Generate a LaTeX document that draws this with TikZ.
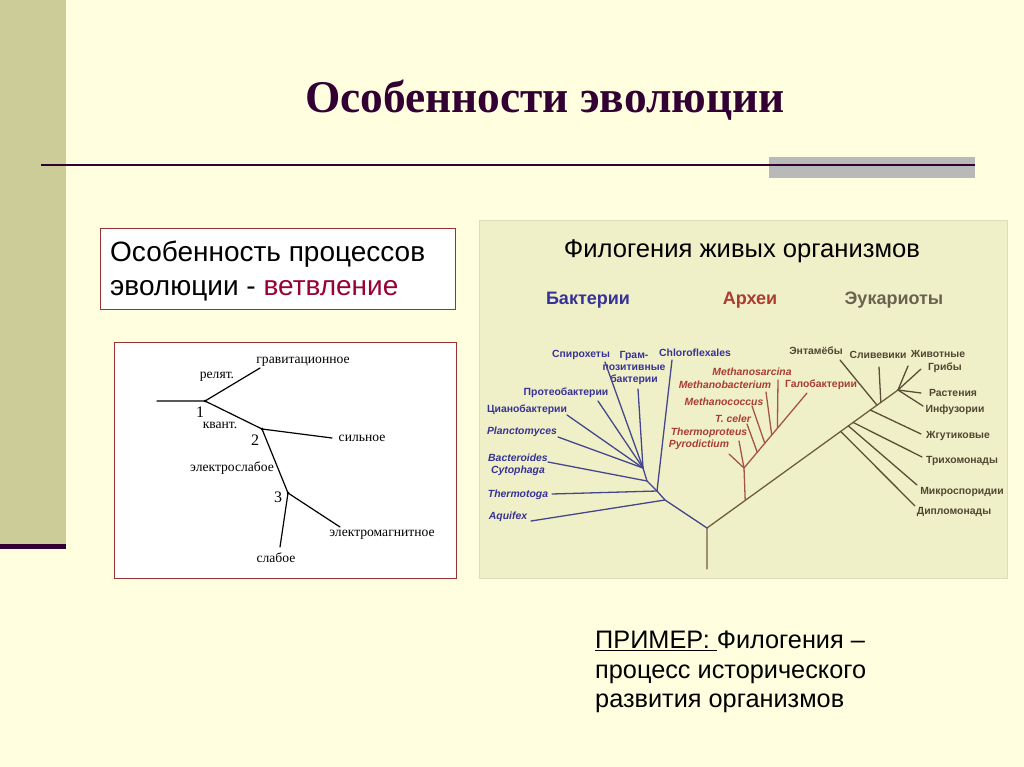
\documentclass[tikz,border=0pt]{standalone}
\usepackage{fontspec}
\setmainfont{Liberation Serif}
\setsansfont{Liberation Sans}
\usetikzlibrary{calc,positioning}

\definecolor{slidebg}{RGB}{255,255,224}
\definecolor{sidebar}{RGB}{204,204,153}
\definecolor{titlecol}{RGB}{51,0,51}
\definecolor{boxline}{RGB}{153,51,51}
\definecolor{redword}{RGB}{153,0,51}
\definecolor{panel}{RGB}{240,240,200}
\definecolor{bacline}{RGB}{70,70,140}
\definecolor{bactext}{RGB}{55,50,150}
\definecolor{arcline}{RGB}{165,85,70}
\definecolor{arctext}{RGB}{170,60,50}
\definecolor{eukline}{RGB}{90,78,55}
\definecolor{euktext}{RGB}{80,70,50}
\definecolor{trunkcol}{RGB}{110,95,60}

\begin{document}
\begin{tikzpicture}[x=1pt,y=-1pt,
    branch/.style={line width=1.3pt, line cap=round},
    force/.style={line width=1.2pt, line cap=round},
    tag/.style={font=\sffamily\bfseries\fontsize{10.4}{12}\selectfont, inner sep=0pt},
    bac/.style={tag, text=bactext},
    arch/.style={tag, text=arctext},
    euk/.style={tag, text=euktext},
    latin/.style={font=\sffamily\bfseries\itshape\fontsize{10.4}{12}\selectfont},
    head/.style={inner sep=0pt, font=\sffamily\bfseries\fontsize{18}{20}\selectfont},
    forcelbl/.style={font=\fontsize{13.6}{15}\selectfont, inner sep=0pt},
    forcenum/.style={font=\fontsize{16}{18}\selectfont, inner sep=0pt},
    knot/.style={circle, fill, inner sep=0pt, minimum size=3pt}]
    \fill[slidebg] (0,0) rectangle (1024,767);
    \useasboundingbox (0,0) rectangle (1024,767);
    % slide frame
    \fill[sidebar] (0,0) rectangle (66,545);
    \draw[titlecol, line width=5pt] (0,546) -- (66,546);
    \fill[gray!55] (769,157) rectangle (975,178);
    \draw[titlecol, line width=2.5pt] (41,165) -- (975,165);
    \node[anchor=base, text=titlecol, font=\bfseries\fontsize{45.4}{52}\selectfont] (title) at (545,113) {Особенности эволюции};

    % statement box
    \draw[boxline, fill=white, line width=1pt] (100,229) rectangle (455,309);
    \node[anchor=west, align=left, inner sep=0pt, font=\sffamily\fontsize{28}{34}\selectfont] (feature) at (110,271)
        {Особенность процессов\\эволюции - \textcolor{redword}{ветвление}};

    % example text
    \node[anchor=west, align=left, inner sep=0pt, font=\sffamily\fontsize{25.3}{29.5}\selectfont] (example) at (595,672)
        {\underline{ПРИМЕР: }Филогения --\\процесс исторического\\развития организмов};

    % forces tree
    \draw[boxline, fill=white, line width=0.8pt] (114,342) rectangle (456,578);
    \coordinate (f_in) at (157,401);
    \node[knot] (n_1) at (205,401) {};
    \node[knot] (n_2) at (262,429) {};
    \node[knot] (n_3) at (288,493) {};
    \coordinate (f_grav) at (260,368);
    \coordinate (f_strong) at (332,438);
    \coordinate (f_em) at (340,527);
    \coordinate (f_weak) at (280,547);
    \draw[force] (f_in) -- (n_1.center) -- (n_2.center) -- (n_3.center) -- (f_weak);
    \draw[force] (n_1.center) -- (f_grav);
    \draw[force] (n_2.center) -- (f_strong);
    \draw[force] (n_3.center) -- (f_em);
    \node[forcelbl] (grav) at (303,362) {гравитационное};
    \node[forcelbl] (relat) at (217,377) {релят.};
    \node[forcenum] (num_1) at (200,412) {1};
    \node[forcelbl] (quant) at (220,425) {квант.};
    \node[forcenum] (num_2) at (255,440) {2};
    \node[forcelbl] (strong) at (362,438) {сильное};
    \node[forcelbl] (ew) at (232,468) {электрослабое};
    \node[forcenum] (num_3) at (278,497) {3};
    \node[forcelbl] (em) at (382,535) {электромагнитное};
    \node[forcelbl] (weak) at (276,558) {слабое};

    % phylogeny panel
    \filldraw[fill=panel, draw=panel!92!black, line width=0.6pt] (479,220) rectangle (1007,578);
    \node[anchor=base, inner sep=0pt, font=\sffamily\fontsize{25.6}{28}\selectfont] (phylo) at (742,258) {Филогения живых организмов};
    \node[head, text=bactext] (h_bac) at (588,300) {Бактерии};
    \node[head, text=arctext] (h_arc) at (750,300) {Археи};
    \node[head, text=euktext!85!white] (h_euk) at (894,300) {Эукариоты};

    \coordinate (root_low) at (707,569);
    \coordinate (root_top) at (707,528);
    \coordinate (e_fan) at (898,390);
    \draw[branch, trunkcol] (root_low) -- (root_top) -- (e_fan);

    % bacteria
    \coordinate (b_1) at (665,500);
    \coordinate (b_2) at (657,491);
    \coordinate (b_3) at (647,481);
    \coordinate (b_4) at (643,468);
    \draw[branch, bacline] (root_top) -- (b_1) -- (b_2) -- (b_3) -- (b_4);
    \node[bac] (spiro) at (581,355) {Спирохеты};
    \node[bac, align=center] (gram) at (634,368) {Грам-\\позитивные\\бактерии};
    \node[bac] (chloro) at (695,353) {Chloroflexales};
    \node[bac] (proteo) at (566,393) {Протеобактерии};
    \node[bac] (cyano) at (527,410) {Цианобактерии};
    \node[bac, latin] (planct) at (522,432) {Planctomyces};
    \node[bac, latin, align=center] (bactero) at (518,465) {Bacteroides\\Cytophaga};
    \node[bac, latin] (thermotoga) at (518,495) {Thermotoga};
    \node[bac, latin] (aquifex) at (508,517) {Aquifex};
    \coordinate (end_spiro) at (605,362);
    \coordinate (end_gram) at (638,389);
    \coordinate (end_chloro) at (672,360);
    \coordinate (end_proteo) at (598,401);
    \coordinate (end_cyano) at (567,415);
    \coordinate (end_planct) at (558,437);
    \coordinate (end_bactero) at (548,462);
    \coordinate (end_thermotoga) at (552,494);
    \coordinate (end_aquifex) at (531,521);
    \draw[branch, bacline] (end_spiro) -- (b_4);
    \draw[branch, bacline] (end_gram) -- (b_4);
    \draw[branch, bacline] (end_proteo) -- (b_4);
    \draw[branch, bacline] (end_cyano) -- (b_4);
    \draw[branch, bacline] (end_planct) -- (b_4);
    \draw[branch, bacline] (end_bactero) -- (b_3);
    \draw[branch, bacline] (end_chloro) -- (b_2);
    \draw[branch, bacline] (end_thermotoga) -- (b_2);
    \draw[branch, bacline] (end_aquifex) -- (b_1);

    % archaea
    \coordinate (a_0) at ($(root_top)!0.2!(e_fan)$);
    \coordinate (a_1) at (744,468);
    \coordinate (end_halo) at (807,393);
    \draw[branch, arcline] (a_0) -- (a_1) -- (end_halo);
    \node[arch, latin] (msarc) at (752,372) {Methanosarcina};
    \node[arch, latin] (mbact) at (725,385) {Methanobacterium};
    \node[arch] (halo) at (821,385) {Галобактерии};
    \node[arch, latin] (mcocc) at (724,402) {Methanococcus};
    \node[arch, latin] (tceler) at (733,419) {T. celer};
    \node[arch, latin] (tprot) at (709,433) {Thermoproteus};
    \node[arch, latin] (pyro) at (699,445) {Pyrodictium};
    \coordinate (end_tprot) at (739,441);
    \coordinate (end_pyro) at (729,454);
    \coordinate (end_tceler) at (747,424);
    \coordinate (end_mcocc) at (752,406);
    \coordinate (end_mbact) at (766,392);
    \coordinate (end_msarc) at (778,380);
    \draw[branch, arcline] (end_tprot) -- (a_1);
    \draw[branch, arcline] (end_pyro) -- (a_1);
    \draw[branch, arcline] (end_tceler) -- ($(a_1)!0.21!(end_halo)$);
    \draw[branch, arcline] (end_mcocc) -- ($(a_1)!0.33!(end_halo)$);
    \draw[branch, arcline] (end_mbact) -- ($(a_1)!0.44!(end_halo)$);
    \draw[branch, arcline] (end_msarc) -- ($(a_1)!0.53!(end_halo)$);

    % eukaryotes
    \node[euk] (entam) at (816,351) {Энтамёбы};
    \node[euk] (sliz) at (878,355) {Сливевики};
    \node[euk] (zhiv) at (938,354) {Животные};
    \node[euk] (griby) at (945,368) {Грибы};
    \node[euk] (rast) at (953,393) {Растения};
    \node[euk] (infuz) at (955,410) {Инфузории};
    \node[euk] (zhgut) at (958,436) {Жгутиковые};
    \node[euk] (trich) at (962,461) {Трихомонады};
    \node[euk] (micro) at (962,492) {Микроспоридии};
    \node[euk] (diplo) at (954,512) {Дипломонады};
    \coordinate (end_entam) at (840,360);
    \coordinate (end_sliz) at (879,367);
    \coordinate (end_zhiv) at (908,366);
    \coordinate (end_griby) at (921,369);
    \coordinate (end_rast) at (921,393);
    \coordinate (end_infuz) at (923,406);
    \coordinate (end_zhgut) at (921,434);
    \coordinate (end_trich) at (922,457);
    \coordinate (end_micro) at (917,485);
    \coordinate (end_diplo) at (915,506);
    \draw[branch, eukline] (end_diplo) -- ($(root_top)!0.70!(e_fan)$);
    \draw[branch, eukline] (end_micro) -- ($(root_top)!0.74!(e_fan)$);
    \draw[branch, eukline] (end_trich) -- ($(root_top)!0.765!(e_fan)$);
    \draw[branch, eukline] (end_zhgut) -- ($(root_top)!0.855!(e_fan)$);
    \draw[branch, eukline] (end_entam) -- ($(root_top)!0.89!(e_fan)$);
    \draw[branch, eukline] (end_sliz) -- ($(root_top)!0.91!(e_fan)$);
    \draw[branch, eukline] (end_zhiv) -- (e_fan);
    \draw[branch, eukline] (end_griby) -- (e_fan);
    \draw[branch, eukline] (end_rast) -- (e_fan);
    \draw[branch, eukline] (end_infuz) -- (e_fan);
\end{tikzpicture}
\end{document}
